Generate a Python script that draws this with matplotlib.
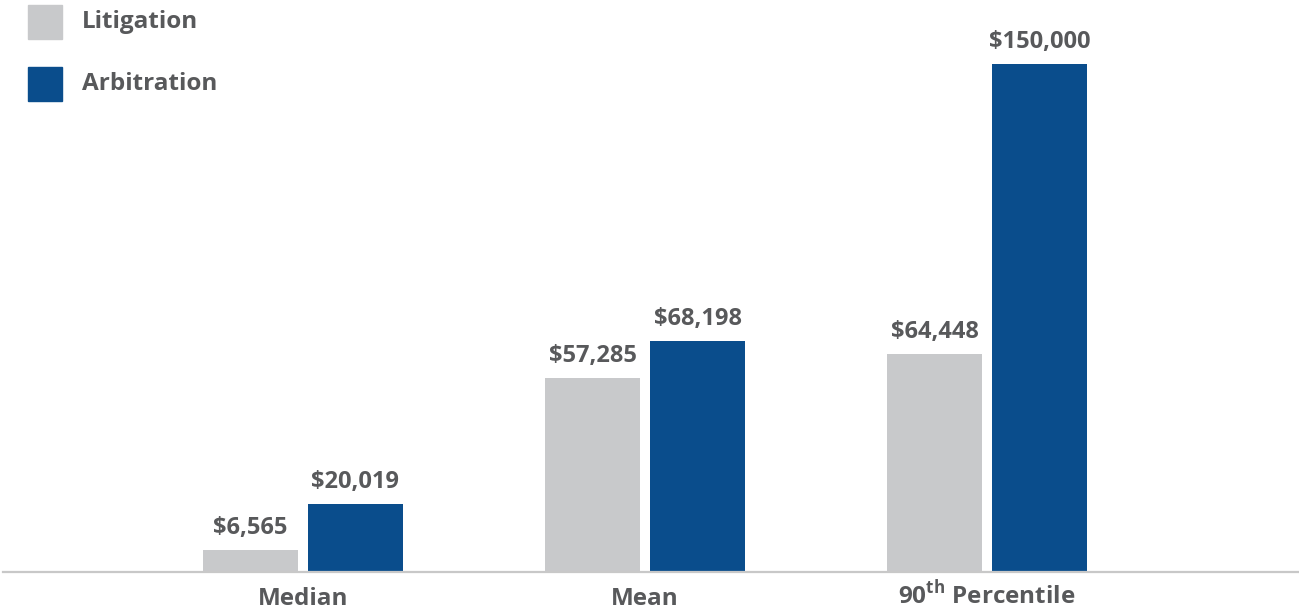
import matplotlib.pyplot as plt
from matplotlib.patches import Rectangle
import numpy as np

plt.rcParams['font.family'] = ['Open Sans', 'DejaVu Sans']
plt.rcParams['mathtext.fontset'] = 'custom'
plt.rcParams['mathtext.rm'] = 'Open Sans:bold'
plt.rcParams['mathtext.bf'] = 'Open Sans:bold'

categories = ["Median", "Mean", "90$^{\\mathbf{th}}$ Percentile"]
series_names = ["Litigation", "Arbitration"]
litigation = [6565, 57285, 64448]
arbitration = [20019, 68198, 150000]

grey = "#c8c9cb"
blue = "#0a4d8c"
txt = "#58595b"

W, H = 1299, 610
fig = plt.figure(figsize=(W/100, H/100), dpi=100)
ax = fig.add_axes([3/W, 38/H, 1296/W, 572/H])

x = np.arange(len(categories))
w = 0.278
off = 0.1535

b1 = ax.bar(x - off, litigation, w, color=grey)
b2 = ax.bar(x + off, arbitration, w, color=blue)

for bars, vals in [(b1, litigation), (b2, arbitration)]:
    for r, v in zip(bars, vals):
        ax.annotate("\\$" + f"{v:,}", (r.get_x() + r.get_width()/2, v),
                    xytext=(0, 7), textcoords="offset points",
                    ha="center", va="bottom", fontsize=17,
                    fontweight="bold", color=txt)

ax.set_xlim(-0.877, 2.912)
ax.set_ylim(0, 168900)
ax.set_xticks(x)
ax.set_xticklabels(categories, fontsize=17.5, fontweight="bold", color=txt,
                   va="baseline")
ax.tick_params(axis="x", length=0, pad=23.5)
ax.set_yticks([])
for s in ["top", "left", "right"]:
    ax.spines[s].set_visible(False)
ax.spines["bottom"].set_color("#c8c8c8")
ax.spines["bottom"].set_linewidth(1.6)

# legend drawn in pixel space, top-left
for i, (name, col) in enumerate(zip(series_names, [grey, blue])):
    y_top = 5 + i * 62
    fig.add_artist(Rectangle((28/W, 1 - (y_top + 34)/H), 34/W, 34/H,
                             transform=fig.transFigure, color=col))
    fig.text(82/W, 1 - (y_top + 17)/H, name, fontsize=17.5,
             fontweight="bold", color=txt, va="center", ha="left")

fig.savefig("out.png", dpi=100)
